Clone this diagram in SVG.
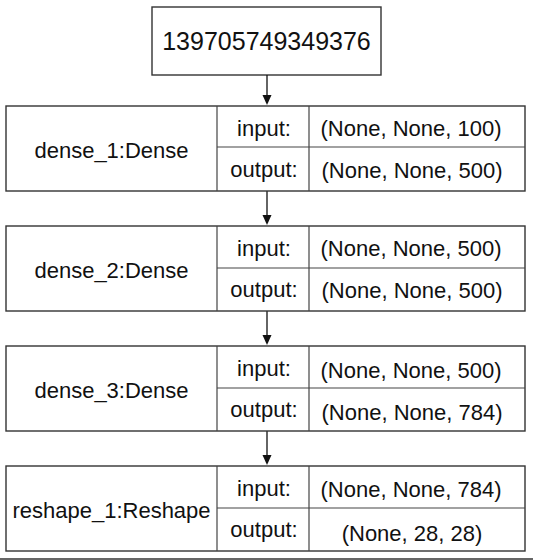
<svg xmlns="http://www.w3.org/2000/svg" width="533" height="560" viewBox="0 0 533 560">
<defs>
<style>
.box{fill:#fff;stroke:#333;stroke-width:1.4}
.div{stroke:#444;stroke-width:1.2}
.t{font-family:"Liberation Sans",Arial,sans-serif;font-size:22px;fill:#111;text-anchor:middle}
.big{font-size:25px}
.conn{stroke:#111;stroke-width:1.3;fill:none}
.head{fill:#111}
</style>
</defs>
<rect width="533" height="560" fill="#fff"/>
<g id="input_node">
<rect class="box" x="152" y="7" width="229" height="68"/>
<text class="t big" x="266.5" y="50">139705749349376</text>
</g>
<g id="connectors">
<line class="conn" x1="267" y1="75" x2="267" y2="96"/>
<polygon class="head" points="262.5,95 271.5,95 267,105"/>
<line class="conn" x1="267" y1="191" x2="267" y2="216"/>
<polygon class="head" points="262.5,215 271.5,215 267,225"/>
<line class="conn" x1="267" y1="311" x2="267" y2="336"/>
<polygon class="head" points="262.5,335 271.5,335 267,345"/>
<line class="conn" x1="267" y1="431" x2="267" y2="456"/>
<polygon class="head" points="262.5,455 271.5,455 267,465"/>
</g>
<g id="dense_1">
<rect class="box" x="6" y="106" width="519" height="85"/>
<line class="div" x1="217" y1="106" x2="217" y2="191"/>
<line class="div" x1="309" y1="106" x2="309" y2="191"/>
<line class="div" x1="217" y1="147" x2="525" y2="147"/>
<text class="t" x="111.5" y="158">dense_1:Dense</text>
<text class="t" x="264" y="136">input:</text>
<text class="t" x="264" y="177">output:</text>
<text class="t" x="411" y="136">(None, None, 100)</text>
<text class="t" x="412" y="178">(None, None, 500)</text>
</g>
<g id="dense_2">
<rect class="box" x="6" y="226" width="519" height="85"/>
<line class="div" x1="217" y1="226" x2="217" y2="311"/>
<line class="div" x1="309" y1="226" x2="309" y2="311"/>
<line class="div" x1="217" y1="268" x2="525" y2="268"/>
<text class="t" x="111.5" y="278">dense_2:Dense</text>
<text class="t" x="264" y="256">input:</text>
<text class="t" x="264" y="297">output:</text>
<text class="t" x="411" y="256">(None, None, 500)</text>
<text class="t" x="412" y="298">(None, None, 500)</text>
</g>
<g id="dense_3">
<rect class="box" x="6" y="346" width="519" height="85"/>
<line class="div" x1="217" y1="346" x2="217" y2="431"/>
<line class="div" x1="309" y1="346" x2="309" y2="431"/>
<line class="div" x1="217" y1="388" x2="525" y2="388"/>
<text class="t" x="111.5" y="398">dense_3:Dense</text>
<text class="t" x="264" y="376">input:</text>
<text class="t" x="264" y="417">output:</text>
<text class="t" x="411" y="378">(None, None, 500)</text>
<text class="t" x="412" y="420">(None, None, 784)</text>
</g>
<g id="reshape_1">
<rect class="box" x="6" y="466" width="519" height="85"/>
<line class="div" x1="217" y1="466" x2="217" y2="551"/>
<line class="div" x1="309" y1="466" x2="309" y2="551"/>
<line class="div" x1="217" y1="508" x2="525" y2="508"/>
<text class="t" x="111.5" y="518">reshape_1:Reshape</text>
<text class="t" x="264" y="496">input:</text>
<text class="t" x="264" y="537">output:</text>
<text class="t" x="411" y="497">(None, None, 784)</text>
<text class="t" x="412" y="541">(None, 28, 28)</text>
</g>
<line x1="0" y1="559" x2="533" y2="559" stroke="#333" stroke-width="1.6"/>
</svg>
